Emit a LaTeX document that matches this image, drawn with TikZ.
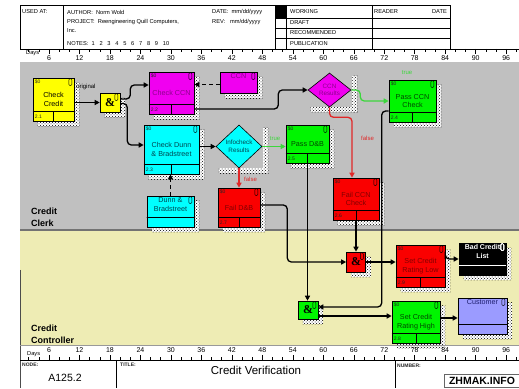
\documentclass[tikz,border=0pt]{standalone}
\usepackage{fontspec}
\setmainfont{Liberation Sans}
\newfontfamily\ampfont{Liberation Serif}
\usetikzlibrary{arrows.meta,positioning,calc,shapes.geometric,patterns}
\definecolor{lanegray}{RGB}{192,192,192}
\definecolor{lanetan}{RGB}{238,236,180}
\definecolor{idefyellow}{RGB}{255,255,0}
\definecolor{idefmagenta}{RGB}{240,0,240}
\definecolor{idefmagtext}{RGB}{140,0,140}
\definecolor{idefcyan}{RGB}{0,255,255}
\definecolor{idefcyantext}{RGB}{0,70,80}
\definecolor{idefgreen}{RGB}{0,245,0}
\definecolor{idefgreentext}{RGB}{0,70,0}
\definecolor{idefred}{RGB}{250,0,0}
\definecolor{idefredtext}{RGB}{130,0,0}
\definecolor{idefblue}{RGB}{155,155,255}
\definecolor{idefbluetext}{RGB}{30,30,110}
\definecolor{truegreen}{RGB}{60,215,60}
\definecolor{falsered}{RGB}{225,40,40}
\pgfdeclarelayer{back}
\pgfsetlayers{back,main}
\newcommand{\papclip}[2][black]{\draw[#1,line width=0.4pt,rounded corners=1.2pt] ($(#2)+(-5.5,-8)$) rectangle ($(#2)+(-2.5,-1)$);}

\begin{document}
\begin{tikzpicture}[x=1pt,y=1pt,
  activity/.style={draw,line width=0.6pt,inner sep=0pt,align=center,font=\fontsize{7.2}{8.5}\selectfont},
  store/.style={draw,line width=0.6pt,inner sep=0pt},
  storetext/.style={font=\fontsize{7.2}{8.5}\selectfont,align=center,inner sep=0pt},
  junction/.style={draw,line width=0.6pt,inner sep=0pt,font=\ampfont\bfseries\fontsize{12}{12}\selectfont},
  decision/.style={draw,diamond,line width=0.6pt,inner sep=0pt},
  condtext/.style={font=\fontsize{6.3}{7.5}\selectfont,align=center,inner sep=0pt},
  tagtext/.style={font=\fontsize{5}{5}\selectfont,inner sep=0pt,text=black!85},
  hdr/.style={font=\fontsize{5.7}{6}\selectfont,inner sep=0pt,anchor=west},
  rulenum/.style={font=\fontsize{7}{7}\selectfont,inner sep=0pt},
  lanelbl/.style={font=\fontsize{9}{12}\selectfont\bfseries,align=left,anchor=west,inner sep=0pt},
  arr/.style={-{Triangle[length=5pt,width=5pt]},line width=1.3pt,rounded corners=4pt},
  truearr/.style={arr,truegreen},
  falsearr/.style={arr,falsered},
  dasharr/.style={-{Triangle[length=5pt,width=5pt]},line width=1.1pt,dash pattern=on 4pt off 3pt},
  cond/.style={font=\fontsize{6}{6}\selectfont,inner sep=0pt},
  hatch/.style={pattern=crosshatch dots,pattern color=black}
]
  \useasboundingbox (0,0) rectangle (519,388);
  % Lanes
  \begin{pgfonlayer}{back}
    \fill[white] (0,0) rectangle (519,388);
    \fill[lanegray] (20,158) rectangle (519,326);
    \fill[lanetan] (20,43) rectangle (519,158);
    \draw[black!55,line width=1.2pt] (20,158) -- (519,158);
  \end{pgfonlayer}
  \draw[black!70,line width=0.5pt] (20,118) -- (20,0);
  \draw[black!40,line width=0.5pt] (20,43) -- (519,43);

  % Header
  \draw[line width=0.5pt] (20,339) -- (20,383) -- (450,383) -- (450,339);
  \draw[line width=0.5pt] (20,339) -- (519,339);
  \draw[line width=0.5pt] (63,383) -- (63,339);
  \draw[line width=0.5pt] (275,383) -- (275,339);
  \draw[line width=0.5pt] (286,383) -- (286,339);
  \draw[line width=0.5pt] (372,383) -- (372,339);
  \foreach \yy in {370,360,350}
    \draw[line width=0.5pt] (275,\yy) -- (450,\yy);
  \fill (275,383) rectangle (286,370);
  \node[hdr] (usedat) at (22,376) {USED AT:};
  \node[hdr] (author) at (67,376) {AUTHOR:~~Norm Wold};
  \node[hdr] (project) at (67,366) {PROJECT:~~Reengineering Quill Computers,};
  \node[hdr] (projinc) at (67,357) {Inc.};
  \node[hdr] (notes) at (67,344) {NOTES:~~1~~~2~~~3~~~4~~~5~~~6~~~7~~~8~~~9~~~10};
  \node[hdr] (date) at (212,376) {DATE:~~mm/dd/yyyy};
  \node[hdr] (rev) at (212,366) {REV:~~~mm/dd/yyyy};
  \node[hdr] (working) at (290,376) {WORKING};
  \node[hdr] (draft) at (290,365) {DRAFT};
  \node[hdr] (recomm) at (290,355) {RECOMMENDED};
  \node[hdr] (public) at (290,344) {PUBLICATION};
  \node[hdr] (reader) at (374,376) {READER};
  \node[hdr,anchor=east] (rdate) at (447,376) {DATE};

  % Rulers
  \foreach \d in {2,4,...,98}{
    \pgfmathsetmacro\len{mod(\d,6)==0 ? 5 : 3}
    \draw[line width=0.5pt] ({18.5+5.08*\d},339) -- ++(0,-\len);
    \draw[line width=0.5pt] ({18.5+5.08*\d},28) -- ++(0,\len);
  }
  \foreach \d in {6,12,...,96}{
    \node[rulenum] (top\d) at ({18.5+5.08*\d},330) {\d};
    \node[rulenum] (bot\d) at ({18.5+5.08*\d},38) {\d};
  }
  \node[hdr] (topdays) at (26,335) {Days};
  \node[hdr] (botdays) at (27,34) {Days};

  % Footer
  \draw[line width=0.5pt] (20,28) -- (519,28);
  \draw[line width=0.5pt] (116,28) -- (116,0);
  \draw[line width=0.5pt] (395,28) -- (395,0);
  \node[tagtext,font=\bfseries\fontsize{5}{5}\selectfont,anchor=west] (nodelbl) at (22,23) {NODE:};
  \node[font=\fontsize{10.5}{10.5}\selectfont,inner sep=0pt] (nodeno) at (65,10) {A125.2};
  \node[tagtext,font=\bfseries\fontsize{5}{5}\selectfont,anchor=west] (titlelbl) at (120,23) {TITLE:};
  \node[font=\fontsize{11.5}{11.5}\selectfont,inner sep=0pt] (title) at (256,18) {Credit Verification};
  \node[tagtext,font=\bfseries\fontsize{5}{5}\selectfont,anchor=west] (numlbl) at (397,22) {NUMBER:};
  \node[draw=black!60,fill=white,line width=1pt,inner xsep=5pt,inner ysep=2.5pt,
    font=\bfseries\fontsize{10.5}{10.5}\selectfont] (zhmak) at (482,7) {ZHMAK.INFO};

  % Lane labels
  \node[lanelbl] (clerk) at (31,171) {Credit\\Clerk};
  \node[lanelbl] (controller) at (31,54) {Credit\\Controller};

  % Boxes
  \node[activity,fill=idefyellow,minimum width=41,minimum height=43] (chkcredit) at (53.5,288.5) {Check\\Credit};
  \node[junction,fill=idefyellow,minimum width=20,minimum height=19] (and1) at (110,285.5) {\&};
  \node[activity,fill=idefmagenta,text=idefmagtext,minimum width=45,minimum height=42] (chkccn) at (171.5,295) {Check CCN};
  \node[store,fill=idefmagenta,minimum width=37,minimum height=21] (ccn) at (238.5,305.5) {};
  \node[storetext,text=idefmagtext,below=2pt of ccn.north] (ccntext) {CCN};
  \node[decision,fill=idefmagenta,minimum width=43,minimum height=34] (ccnres) at (329.5,298) {};
  \node[condtext,text=idefmagtext] (ccnrestext) at (ccnres) {CCN\\Results};
  \node[activity,fill=idefgreen,text=idefgreentext,minimum width=47,minimum height=42] (passccn) at (412.5,287) {Pass CCN\\Check};
  \node[activity,fill=idefcyan,text=idefcyantext,minimum width=55,minimum height=49] (chkdunn) at (171.5,238.5) {Check Dunn\\\& Bradstreet};
  \node[decision,fill=idefcyan,minimum width=46,minimum height=43] (infores) at (239,241.5) {};
  \node[condtext,text=idefcyantext] (inforestext) at (infores) {Infocheck\\Results};
  \node[activity,fill=idefgreen,text=idefgreentext,minimum width=43,minimum height=38] (passdb) at (307.5,244) {Pass D\&B};
  \node[activity,fill=idefred,text=idefredtext,minimum width=42,minimum height=39] (faildb) at (239,180.5) {Fail D\&B};
  \node[store,fill=idefcyan,minimum width=47,minimum height=31] (dunnbrad) at (170.5,176.5) {};
  \node[storetext,text=idefcyantext,below=2pt of dunnbrad.north] (dunnbradtext) {Dunn \&\\Bradstreet};
  \node[activity,fill=idefred,text=idefredtext,minimum width=46,minimum height=42] (failccn) at (356,189) {Fail CCN\\Check};
  \node[junction,fill=idefred,minimum width=19,minimum height=20] (and2) at (356,126) {\&};
  \node[activity,fill=idefred,text=idefredtext,minimum width=49,minimum height=42] (setlow) at (420.5,122) {Set Credit\\Rating Low};
  \node[store,fill=black,minimum width=47,minimum height=32] (badcredit) at (482.5,129) {};
  \node[storetext,text=white,font=\bfseries\fontsize{7}{8.5}\selectfont,below=2pt of badcredit.north] (badcredittext) {Bad Credit\\List};
  \node[junction,fill=idefgreen,minimum width=20,minimum height=18] (and3) at (308,78) {\&};
  \node[activity,fill=idefgreen,text=idefgreentext,minimum width=48,minimum height=42] (sethigh) at (416,66) {Set Credit\\Rating High};
  \node[store,fill=idefblue,minimum width=49,minimum height=36] (customer) at (482.5,72) {};
  \node[storetext,text=idefbluetext,below=2pt of customer.north] (customertext) {Customer};

  % Box details
  \foreach \n/\num in {chkcredit/2.1,chkccn/2.2,chkdunn/2.3,passccn/2.4,passdb/2.5,
                       failccn/2.6,faildb/2.7,sethigh/2.8,setlow/2.9}{
    \draw[line width=0.5pt] ($(\n.south west)+(0,10)$) -- ($(\n.south east)+(0,10)$);
    \draw[line width=0.5pt] (\n.south) -- ++(0,10);
    \node[tagtext,anchor=west] (\n-id) at ($(\n.south west)+(2,5)$) {\num};
    \node[tagtext,anchor=north west] (\n-cost) at ($(\n.north west)+(2,-2)$) {\$0};
    \papclip{\n.north east}
  }
  \foreach \n in {and1,and2,and3,ccn,dunnbrad,customer}
    \papclip{\n.north east}
  \papclip[white]{badcredit.north east}
  \draw[line width=0.5pt] ($(dunnbrad.south west)+(0,10)$) -- ($(dunnbrad.south east)+(0,10)$);
  \draw[line width=0.5pt] ($(customer.south west)+(0,10)$) -- ($(customer.south east)+(0,10)$);
  \draw[white,line width=0.5pt] ($(badcredit.south west)+(0,10)$) -- ($(badcredit.south east)+(0,10)$);

  % Arrows
  \draw[arr] (chkcredit.east |- and1.west) -- (and1.west);
  \node[cond,anchor=west] (original) at (76,301) {original};
  \draw[arr] ([yshift=3.5pt]and1.east) -- ++(10,0) |- ([yshift=8pt]chkccn.west);
  \draw[arr] ([yshift=-1pt]and1.east) -- ++(7,0) |- ([yshift=4.5pt]chkdunn.west);
  \draw[dasharr] ([yshift=-2pt]ccn.west) -- ([yshift=-2pt]ccn.west -| chkccn.east);
  \draw[arr] ([yshift=-16pt]chkccn.east) -- ++(84,0) |- (ccnres.west);
  \draw[truearr] (ccnres.east) -- ++(9,0) |- (passccn.west);
  \node[cond,text=truegreen] (ccntrue) at (407,315) {true};
  \draw[falsearr] (ccnres.south) -- ++(0,-10) -| ([xshift=-4pt]failccn.north);
  \node[cond,text=falsered,anchor=west] (ccnfalse) at (361,250) {false};
  \draw[arr] (chkdunn.east |- infores.west) -- (infores.west);
  \draw[truearr] (infores.east) -- (infores.east -| passdb.west);
  \node[cond,text=truegreen] (dbtrue) at (275,249) {true};
  \draw[falsearr] (infores.south) -- (infores.south |- faildb.north);
  \node[cond,text=falsered,anchor=west] (dbfalse) at (244,209) {false};
  \draw[dasharr] (dunnbrad.north) -- (dunnbrad.north |- chkdunn.south);
  \draw[arr] ([yshift=-10pt]passccn.west) -- ++(-7,0) |- ([yshift=3pt]and3.east);
  \draw[arr] (passdb.south) -- (passdb.south |- and3.north);
  \draw[arr] ([yshift=2.5pt]faildb.east) -- ++(27,0) |- (and2.west);
  \draw[arr] (failccn.south) -- (and2.north);
  \draw[arr] (and2.east) -- (and2.east -| setlow.west);
  \draw[arr] ([yshift=7pt]setlow.east) -- (setlow.east |- badcredit.west) -- (badcredit.west);
  \draw[arr] ([yshift=-6pt]and3.east) -- ([yshift=-6pt]and3.east -| sethigh.west);
  \draw[arr] ([yshift=4pt]sethigh.east) -- ([yshift=4pt]sethigh.east -| customer.west);

  % Shadows
  \begin{pgfonlayer}{back}
    \foreach \n in {chkcredit,and1,chkccn,ccn,passccn,chkdunn,passdb,faildb,dunnbrad,
                    failccn,and2,setlow,badcredit,and3,sethigh,customer}{
      \fill[white] ($(\n.south west)+(5,-5)$) rectangle ($(\n.north east)+(5,-5)$);
      \fill[hatch] ($(\n.south west)+(5,-5)$) rectangle ($(\n.north east)+(5,-5)$);
    }
    \foreach \n in {ccnres,infores}{
      \fill[white] ($(\n.east |- \n.north)+(1,-3)$) rectangle ($(\n.east |- \n.south)+(6,-5)$);
      \fill[hatch] ($(\n.east |- \n.north)+(1,-3)$) rectangle ($(\n.east |- \n.south)+(6,-5)$);
      \fill[white] ($(\n.west |- \n.south)+(3,0)$) rectangle ($(\n.east |- \n.south)+(6,-5)$);
      \fill[hatch] ($(\n.west |- \n.south)+(3,0)$) rectangle ($(\n.east |- \n.south)+(6,-5)$);
    }
  \end{pgfonlayer}
\end{tikzpicture}
\end{document}
